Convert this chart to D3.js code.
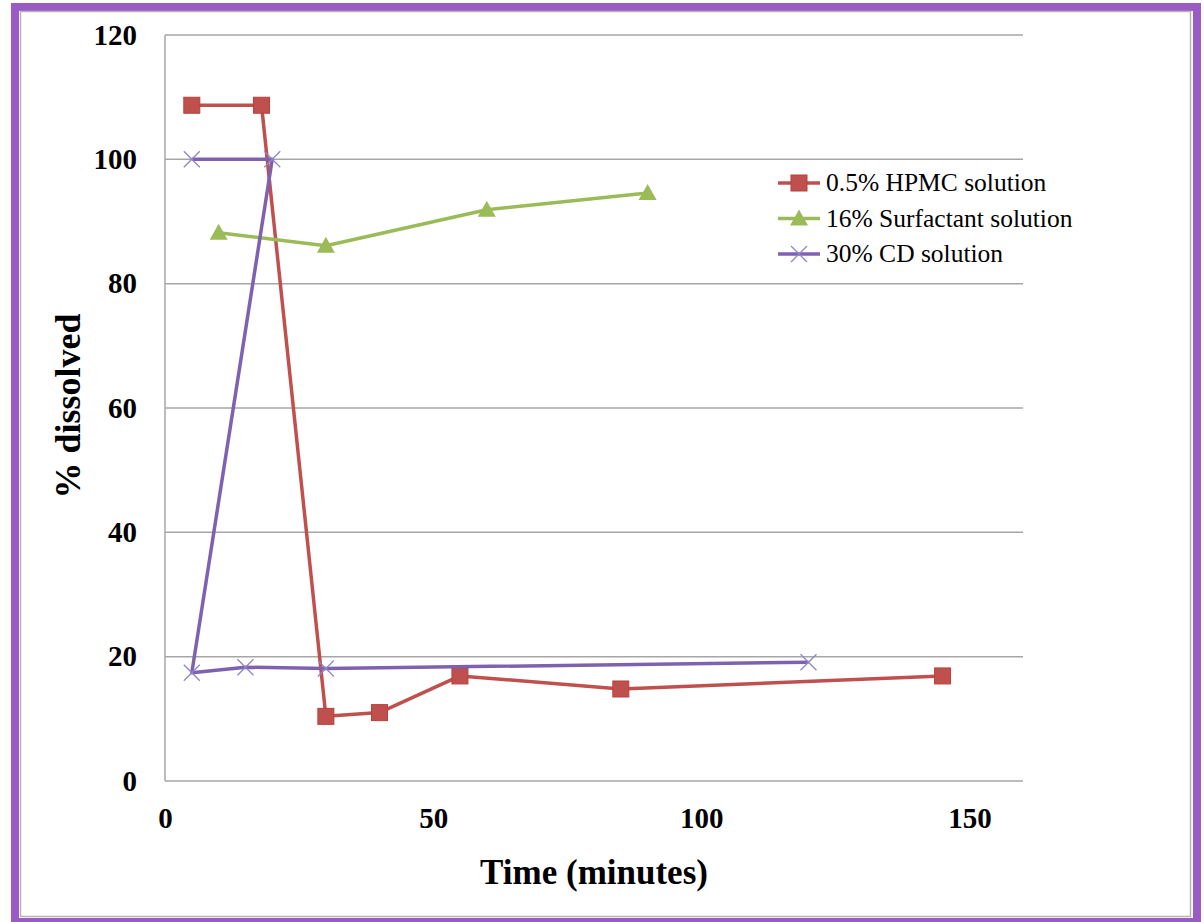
<!DOCTYPE html>
<html>
<head>
<meta charset="utf-8">
<script src="https://cdn.jsdelivr.net/npm/d3@7"></script>
<style>
body { margin: 0; background: #fff; }
</style>
</head>
<body>
<svg></svg>
<script>
var w = 1204, h = 922

// data
var seriesNames = ["0.5% HPMC solution", "16% Surfactant solution", "30% CD solution"]
var hpmcTime = [5, 18, 30, 40, 55, 85, 145]
var hpmcDissolved = [108.7, 108.7, 10.4, 11.0, 16.9, 14.8, 16.9]
var surfTime = [10, 30, 60, 90]
var surfDissolved = [88.2, 86.1, 91.9, 94.6]
var cdTime = [5, 20, 5, 15, 30, 120]
var cdDissolved = [100, 100, 17.4, 18.3, 18.1, 19.1]
var xTicks = [0, 50, 100, 150]
var yTicks = [0, 20, 40, 60, 80, 100, 120]

var colors = ["#c0504d", "#9bbb59", "#7e62b0"]
var markers = ["square", "triangle", "cross"]
var serif = "Liberation Serif"

var svg = d3.select("svg")
    .attr("width", w)
    .attr("height", h)

// frame
svg.append("rect")
    .attr("x", 15)
    .attr("y", 7)
    .attr("width", 1182)
    .attr("height", 915)
    .attr("fill", "#fff")
    .attr("stroke", "#9b5bc4")
    .attr("stroke-width", 8)
svg.append("rect")
    .attr("x", 20.5)
    .attr("y", 11.5)
    .attr("width", 1170)
    .attr("height", 905)
    .attr("fill", "none")
    .attr("stroke", "#b4b4b4")
    .attr("stroke-width", 1.5)

var plot = { left: 165, top: 35, right: 1023, bottom: 781 }

var x = d3.scaleLinear().domain([0, 160]).range([plot.left, plot.right])
var y = d3.scaleLinear().domain([0, 120]).range([plot.bottom, plot.top])

// gridlines
svg.append("g")
    .selectAll("line")
    .data(yTicks)
    .join("line")
    .attr("x1", plot.left)
    .attr("x2", plot.right)
    .attr("y1", d => y(d))
    .attr("y2", d => y(d))
    .attr("stroke", "#a6a6a6")
    .attr("stroke-width", 1.5)

svg.append("line")
    .attr("x1", plot.left)
    .attr("x2", plot.left)
    .attr("y1", plot.top)
    .attr("y2", plot.bottom)
    .attr("stroke", "#a6a6a6")
    .attr("stroke-width", 1.5)

// tick labels
var yAxis = svg.append("g")
    .attr("transform", "translate(" + plot.left + ",0)")
    .call(d3.axisLeft(y).tickValues(yTicks).tickSize(0).tickPadding(28))
yAxis.select(".domain").remove()
yAxis.selectAll("text")
    .style("font-family", serif)
    .attr("font-size", 29)
    .attr("font-weight", "bold")
    .attr("fill", "#000")

var xAxis = svg.append("g")
    .attr("transform", "translate(0," + plot.bottom + ")")
    .call(d3.axisBottom(x).tickValues(xTicks).tickSize(0).tickPadding(26))
xAxis.select(".domain").remove()
xAxis.selectAll("text")
    .style("font-family", serif)
    .attr("font-size", 29)
    .attr("font-weight", "bold")
    .attr("fill", "#000")

// axis titles
svg.append("text")
    .attr("x", 594)
    .attr("y", 884)
    .attr("text-anchor", "middle")
    .style("font-family", serif)
    .attr("font-size", 35)
    .attr("font-weight", "bold")
    .text("Time (minutes)")

svg.append("text")
    .attr("transform", "translate(80,406) rotate(-90)")
    .attr("text-anchor", "middle")
    .style("font-family", serif)
    .attr("font-size", 36)
    .attr("font-weight", "bold")
    .text("% dissolved")

function zipSeries(xs, ys) {
    return xs.map((d, i) => ({ t: d, v: ys[i] }))
}
var series = [
    zipSeries(hpmcTime, hpmcDissolved),
    zipSeries(surfTime, surfDissolved),
    zipSeries(cdTime, cdDissolved)
]

function drawMarker(g, kind, color) {
    if (kind == "square") {
        g.append("rect")
            .attr("x", -8)
            .attr("y", -8)
            .attr("width", 16)
            .attr("height", 16)
            .attr("fill", color)
            .attr("stroke", "#b8403d")
            .attr("stroke-width", 1)
    } else if (kind == "triangle") {
        g.append("path")
            .attr("d", "M0,-9L9,7L-9,7Z")
            .attr("fill", color)
    } else {
        g.append("path")
            .attr("d", "M-8,-8L8,8M-8,8L8,-8")
            .attr("stroke", "#8f86c8")
            .attr("stroke-width", 1.3)
            .attr("fill", "none")
    }
}

var line = d3.line()
    .x(d => x(d.t))
    .y(d => y(d.v))

series.forEach(function (s, i) {
    svg.append("path")
        .datum(s)
        .attr("d", line)
        .attr("fill", "none")
        .attr("stroke", colors[i])
        .attr("stroke-width", 3.5)
        .attr("stroke-linejoin", "round")
    svg.append("g")
        .selectAll("g")
        .data(s)
        .join("g")
        .attr("transform", d => "translate(" + x(d.t) + "," + y(d.v) + ")")
        .each(function () { drawMarker(d3.select(this), markers[i], colors[i]) })
})

// legend
var legend = svg.append("g")
    .attr("transform", "translate(778,183)")
seriesNames.forEach(function (name, i) {
    var row = legend.append("g")
        .attr("transform", "translate(0," + (i * 35.5) + ")")
    row.append("line")
        .attr("x1", 0)
        .attr("x2", 42)
        .attr("stroke", colors[i])
        .attr("stroke-width", 3.5)
    drawMarker(row.append("g").attr("transform", "translate(21,0)"), markers[i], colors[i])
    row.append("text")
        .attr("x", 48)
        .attr("y", 8)
        .style("font-family", serif)
        .attr("font-size", 25.5)
        .text(name)
})
</script>
</body>
</html>
